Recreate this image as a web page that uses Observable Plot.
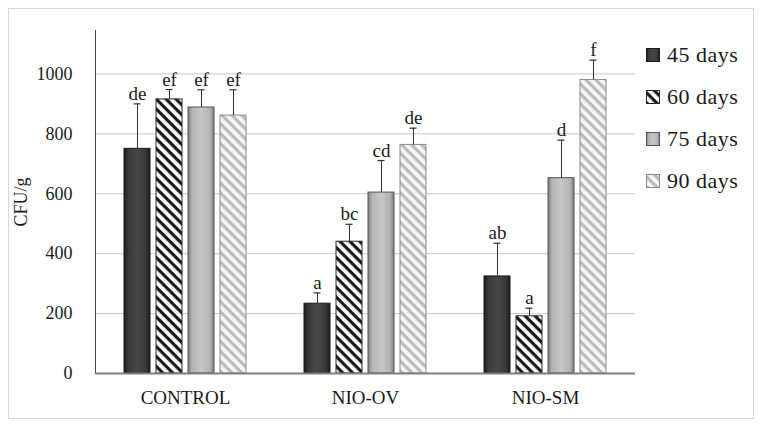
<!DOCTYPE html>
<html>
<head>
<meta charset="utf-8">
<script src="https://cdn.jsdelivr.net/npm/d3@7"></script>
<script src="https://cdn.jsdelivr.net/npm/@observablehq/plot@0.6"></script>
<style>
  html, body { margin: 0; padding: 0; background: #fff; }
  #wrap { position: relative; width: 762px; height: 428px; overflow: hidden; }
  #border { position: absolute; left: 8px; top: 8px; width: 746px; height: 411px; border: 1px solid #d6d6d6; box-sizing: border-box; pointer-events: none; }
  #chart { position: absolute; left: 0; top: 0; }
  #legend { position: absolute; left: 646px; top: 34px; font-family: "Liberation Serif", serif; font-size: 22px; color: #1a1a1a; }
  #legend .item { display: flex; align-items: center; height: 42px; letter-spacing: 0.5px; }
  #legend svg { margin-right: 7px; }
</style>
</head>
<body>
<svg width="0" height="0" style="position:absolute">
  <defs>
    <linearGradient id="g45" x1="0" x2="1" y1="0" y2="0">
      <stop offset="0" stop-color="#1c1c1c"/>
      <stop offset="0.18" stop-color="#3a3a3a"/>
      <stop offset="0.5" stop-color="#474747"/>
      <stop offset="0.82" stop-color="#3a3a3a"/>
      <stop offset="1" stop-color="#1c1c1c"/>
    </linearGradient>
    <linearGradient id="g75" x1="0" x2="1" y1="0" y2="0">
      <stop offset="0" stop-color="#7e7e7e"/>
      <stop offset="0.16" stop-color="#b4b4b4"/>
      <stop offset="0.5" stop-color="#c6c6c6"/>
      <stop offset="0.84" stop-color="#b4b4b4"/>
      <stop offset="1" stop-color="#7e7e7e"/>
    </linearGradient>
    <pattern id="p60" patternUnits="userSpaceOnUse" width="7" height="7" patternTransform="rotate(45)">
      <rect x="0" y="0" width="7" height="7" fill="#ffffff"/>
      <rect x="0" y="0" width="7" height="3.2" fill="#1a1a1a"/>
    </pattern>
    <pattern id="p90" patternUnits="userSpaceOnUse" width="7" height="7" patternTransform="rotate(45)">
      <rect x="0" y="0" width="7" height="7" fill="#f6f6f6"/>
      <rect x="0" y="0" width="7" height="3.2" fill="#bcbcbc"/>
    </pattern>
  </defs>
</svg>
<div id="wrap">
  <div id="chart"></div>
  <div id="border"></div>
  <div id="legend"></div>
</div>
<script>
// ---- data ----
const groups = ["CONTROL", "NIO-OV", "NIO-SM"];
const series = ["45 days", "60 days", "75 days", "90 days"];
const yTicks = [0, 200, 400, 600, 800, 1000];

const mean45 = [750, 233, 324];
const mean60 = [915, 440, 191];
const mean75 = [888, 604, 652];
const mean90 = [861, 763, 980];

const err45 = [150, 36, 111];
const err60 = [33, 58, 27];
const err75 = [59, 107, 127];
const err90 = [86, 56, 66];

const letters45 = ["de", "a", "ab"];
const letters60 = ["ef", "bc", "a"];
const letters75 = ["ef", "cd", "d"];
const letters90 = ["ef", "de", "f"];

// ---- styles per series ----
const fills = {"45 days": "url(#g45)", "60 days": "url(#p60)", "75 days": "url(#g75)", "90 days": "url(#p90)"};
const strokes = {"45 days": "#1a1a1a", "60 days": "#2a2a2a", "75 days": "#555555", "90 days": "#8a8a8a"};

const means = [mean45, mean60, mean75, mean90];
const errs = [err45, err60, err75, err90];
const letters = [letters45, letters60, letters75, letters90];

const data = [];
series.forEach((s, si) => {
  groups.forEach((g, gi) => {
    data.push({group: g, series: s, value: means[si][gi], upper: means[si][gi] + errs[si][gi], letter: letters[si][gi]});
  });
});

const barMarks = series.map(s => Plot.barY(data.filter(d => d.series === s), {
  fx: "group", x: "series", y: "value",
  fill: fills[s], stroke: strokes[s], strokeWidth: 1
}));

const chart = Plot.plot({
  width: 762,
  height: 428,
  marginLeft: 95,
  marginRight: 127,
  marginTop: 30,
  marginBottom: 55,
  style: {fontFamily: "'Liberation Serif', serif", fontSize: "18px", color: "#1a1a1a", background: "transparent"},
  fx: {domain: groups, padding: 0, label: null},
  x: {domain: series, paddingInner: 0.19, paddingOuter: 0.9, axis: null},
  y: {domain: [0, 1145], axis: null},
  marks: [
    Plot.gridY(yTicks.filter(v => v > 0), {stroke: "#c9c9c9", strokeOpacity: 1}),
    Plot.axisY(yTicks, {anchor: "left", tickSize: 0, tickPadding: 23, tickFormat: d => String(d), label: "CFU/g", labelAnchor: "center", labelArrow: "none", labelOffset: 81, fontSize: 18}),
    Plot.axisFx({anchor: "bottom", tickSize: 0, tickPadding: 17, label: null, fontSize: 19}),
    Plot.frame({anchor: "left", stroke: "#444", facetAnchor: "left"}),
    ...barMarks,
    Plot.ruleX(data, {fx: "group", x: "series", y1: "value", y2: "upper", stroke: "#333", strokeWidth: 1}),
    Plot.tickY(data, {fx: "group", x: "series", y: "upper", insetLeft: 9.5, insetRight: 9.5, stroke: "#333", strokeWidth: 1.2}),
    Plot.ruleY([0], {stroke: "#808080", strokeWidth: 2}),
    Plot.text(data, {fx: "group", x: "series", y: "upper", text: "letter", lineAnchor: "bottom", dy: -4, fontSize: 19, fill: "#1a1a1a"})
  ]
});
document.getElementById("chart").appendChild(chart);

// ---- legend ----
const legend = document.getElementById("legend");
series.forEach(s => {
  const item = document.createElement("div");
  item.className = "item";
  item.innerHTML = `<svg width="14" height="14"><rect x="0.5" y="0.5" width="13" height="13" fill="${fills[s]}" stroke="${strokes[s]}"/></svg><span>${s}</span>`;
  legend.appendChild(item);
});
</script>
</body>
</html>
